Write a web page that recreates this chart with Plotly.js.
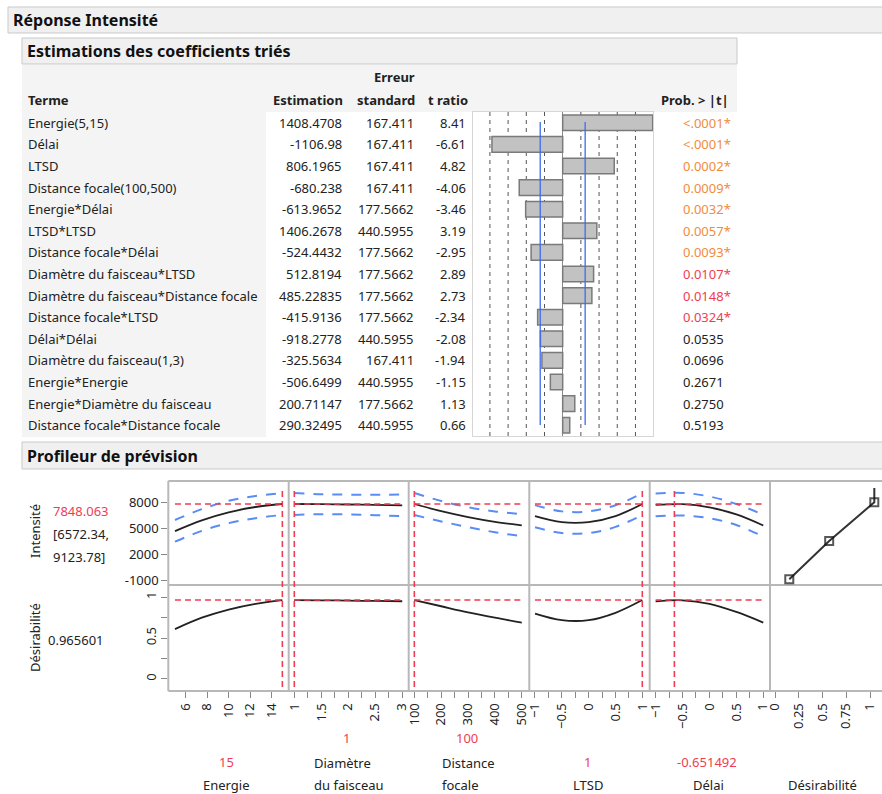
<!DOCTYPE html>
<html>
<head>
<meta charset="utf-8">
<script src="https://cdn.plot.ly/plotly-3.0.1.min.js"></script>
<style>html,body{margin:0;padding:0;background:#fff;}#chart{width:882px;height:794px;}</style>
</head>
<body>
<div id="chart"></div>
<script>
// ---------------- DATA ----------------
const terms = ["Energie(5,15)", "Délai", "LTSD", "Distance focale(100,500)", "Energie*Délai", "LTSD*LTSD",
  "Distance focale*Délai", "Diamètre du faisceau*LTSD", "Diamètre du faisceau*Distance focale",
  "Distance focale*LTSD", "Délai*Délai", "Diamètre du faisceau(1,3)", "Energie*Energie",
  "Energie*Diamètre du faisceau", "Distance focale*Distance focale"];
const estimates = [1408.4708, -1106.98, 806.1965, -680.238, -613.9652, 1406.2678, -524.4432, 512.8194,
  485.22835, -415.9136, -918.2778, -325.5634, -506.6499, 200.71147, 290.32495];
const stdErrors = [167.411, 167.411, 167.411, 167.411, 177.5662, 440.5955, 177.5662, 177.5662, 177.5662,
  177.5662, 440.5955, 167.411, 440.5955, 177.5662, 440.5955];
const tRatios = [8.41, -6.61, 4.82, -4.06, -3.46, 3.19, -2.95, 2.89, 2.73, -2.34, -2.08, -1.94, -1.15, 1.13, 0.66];
const pValues = ["<.0001*", "<.0001*", "0.0002*", "0.0009*", "0.0032*", "0.0057*", "0.0093*", "0.0107*",
  "0.0148*", "0.0324*", "0.0535", "0.0696", "0.2671", "0.2750", "0.5193"];
const tGridLines = [-6.8, -5.1, -3.4, -1.7, 1.7, 3.4, 5.1, 6.8];
const tCritical = [-2.1, 2.1];

// Profiler (prediction profiler) curves
const factorNames = ["Energie", "Diamètre du faisceau", "Distance focale", "LTSD", "Délai"];
const factorCurrent = [15, 1, 100, 1, -0.651492];
const energieX = [5, 7.5, 10, 12.5, 15];
const energieInt = [4700, 5950, 6880, 7500, 7848];
const energieLo = [3460, 4720, 5620, 6200, 6572];
const energieHi = [5990, 7250, 8220, 8780, 9124];
const energieDes = [0.61, 0.75, 0.85, 0.92, 0.966];
const diametreX = [1, 1.5, 2, 2.5, 3];
const diametreInt = [7848, 7830, 7790, 7740, 7690];
const diametreLo = [6572, 6660, 6630, 6550, 6430];
const diametreHi = [9124, 8990, 8940, 8930, 8950];
const diametreDes = [0.966, 0.963, 0.959, 0.955, 0.951];
const distanceX = [100, 200, 300, 400, 500];
const distanceInt = [7848, 7010, 6320, 5770, 5370];
const distanceLo = [6572, 5820, 5160, 4560, 4100];
const distanceHi = [9124, 8200, 7480, 6980, 6680];
const distanceDes = [0.966, 0.89, 0.815, 0.75, 0.69];
const ltsdX = [-1, -0.5, 0, 0.5, 1];
const ltsdInt = [6430, 5730, 5730, 6440, 7848];
const ltsdLo = [5140, 4470, 4470, 5180, 6572];
const ltsdHi = [7720, 6990, 6990, 7700, 9124];
const ltsdDes = [0.80, 0.72, 0.72, 0.81, 0.966];
const delaiX = [-1, -0.5, 0, 0.5, 1];
const delaiInt = [7736, 7827, 7458, 6630, 5343];
const delaiLo = [6410, 6510, 6200, 5400, 4060];
const delaiHi = [9060, 9140, 8720, 7850, 6600];
const delaiDes = [0.95, 0.963, 0.92, 0.82, 0.69];
const predIntensity = "7848.063";
const predInterval = ["[6572.34,", "9123.78]"];
const predDesirability = "0.965601";
const predIntensityValue = 7848.063;
const predDesirabilityValue = 0.965601;
// Desirability function (desirability vs Intensité)
const desirFnX = [0.15, 0.57, 1.045, 1.045];
const desirFnY = [-900, 3550, 8050, 9700];
const curValueLabels = ["15", "1", "100", "1", "-0.651492"];

// ---------------- HELPERS ----------------
const W = 882, H = 794;
const px = x => x / W;
const py = y => 1 - y / H;
const FONT = "Noto Sans, Open Sans, sans-serif";
const FS = 13;
const RED = "#f03c52", BLUE = "#5a8cf5", ORANGE = "#f08c3c";

const traces = [];
// t-ratio bars
traces.push({
  type: "bar", orientation: "h", x: tRatios, y: terms, xaxis: "x", yaxis: "y",
  width: 0.72, marker: {color: "#c2c2c2", line: {color: "#7a7a7a", width: 1.5}},
  hoverinfo: "skip"
});

const factors = [
  {x: energieX, i: energieInt, lo: energieLo, hi: energieHi, d: energieDes},
  {x: diametreX, i: diametreInt, lo: diametreLo, hi: diametreHi, d: diametreDes},
  {x: distanceX, i: distanceInt, lo: distanceLo, hi: distanceHi, d: distanceDes},
  {x: ltsdX, i: ltsdInt, lo: ltsdLo, hi: ltsdHi, d: ltsdDes},
  {x: delaiX, i: delaiInt, lo: delaiLo, hi: delaiHi, d: delaiDes}
];
factors.forEach((f, k) => {
  const xa = "x" + (k + 2);
  [f.hi, f.lo].forEach(band => traces.push({
    type: "scatter", mode: "lines", x: f.x, y: band, xaxis: xa, yaxis: "y2",
    line: {color: BLUE, width: 2, dash: "10px,9px", shape: "spline"}, hoverinfo: "skip"
  }));
  traces.push({type: "scatter", mode: "lines", x: f.x, y: f.i, xaxis: xa, yaxis: "y2",
    line: {color: "#222", width: 1.8, shape: "spline"}, hoverinfo: "skip"});
  traces.push({type: "scatter", mode: "lines", x: f.x, y: f.d, xaxis: xa, yaxis: "y3",
    line: {color: "#222", width: 1.8, shape: "spline"}, hoverinfo: "skip"});
});
traces.push({type: "scatter", mode: "lines+markers", x: desirFnX, y: desirFnY, xaxis: "x7", yaxis: "y2",
  line: {color: "#333", width: 2},
  marker: {symbol: "square-open", size: [8, 8, 8, 0], color: "#111", line: {width: 2}}, hoverinfo: "skip"});
traces.push({type: "scatter", mode: "lines", x: [], y: [], xaxis: "x7", yaxis: "y3", hoverinfo: "skip"});

// ---------------- LAYOUT ----------------
const colEdges = [168.3, 288.7, 408.7, 529.3, 649.7, 770, 882];
const row1 = [481, 585], row2 = [585, 691];
const xRanges = [[4.38, 15.59], [0.896, 3.12], [79, 528], [-1.106, 1.138], [-1.11, 1.125], [-0.053, 1.126]];
const xTicks = [
  {tick0: 6, dtick: 2},
  {tick0: 1, dtick: 0.5, minor: 0.25},
  {tick0: 100, dtick: 100, minor: 50},
  {tick0: -1, dtick: 0.5, minor: 0.25},
  {tick0: -1, dtick: 0.5, minor: 0.25},
  {tick0: 0, dtick: 0.25}
];

const layout = {
  width: W, height: H, autosize: false, showlegend: false,
  margin: {l: 0, r: 0, t: 0, b: 0, pad: 0},
  paper_bgcolor: "#ffffff", plot_bgcolor: "rgba(0,0,0,0)",
  font: {family: FONT, size: FS, color: "#222"},
  bargap: 0,
  xaxis: {domain: [px(473), px(653)], range: [-8.38, 8.44], anchor: "y", showticklabels: false,
    showgrid: false, zeroline: true, zerolinecolor: "#8a8a8a", zerolinewidth: 1,
    showline: true, mirror: true, linecolor: "#d6d6d6", linewidth: 1, ticks: "", fixedrange: true},
  yaxis: {domain: [py(436), py(112)], type: "category", categoryorder: "array", categoryarray: terms,
    range: [14.5, -0.5], anchor: "x", showticklabels: false, showgrid: false, zeroline: false,
    showline: true, mirror: true, linecolor: "#d6d6d6", linewidth: 1, ticks: "", fixedrange: true},
  yaxis2: {domain: [py(row1[1]), py(row1[0])], range: [-1580, 10525], anchor: "x2",
    tickmode: "array", tickvals: [8000, 5000, 2000, -1000], ticktext: ["8000", "5000", "2000", "-1000"],
    ticks: "outside", ticklen: 6, tickcolor: "#888", tickwidth: 1,
    showgrid: false, zeroline: false, showline: false, tickfont: {size: FS, color: "#222"}},
  yaxis3: {domain: [py(row2[1]), py(row2[0])], range: [-0.147, 1.15], anchor: "x2",
    tickmode: "array", tickvals: [0, 0.5, 1], ticktext: ["0", "0.5", "1"], tickangle: -90,
    ticks: "outside", ticklen: 6, tickcolor: "#888", tickwidth: 1,
    minor: {tickvals: [0.25, 0.75], ticks: "outside", ticklen: 6, tickcolor: "#888"},
    showgrid: false, zeroline: false, showline: false, tickfont: {size: FS, color: "#222"}}
};
for (let k = 0; k < 6; k++) {
  const t = xTicks[k];
  const ax = {
    domain: [px(colEdges[k]), px(colEdges[k + 1])], range: xRanges[k], anchor: "y3",
    tickmode: "linear", tick0: t.tick0, dtick: t.dtick, tickangle: -90,
    ticks: "outside", ticklen: 6, tickcolor: "#888", tickwidth: 1,
    showgrid: false, zeroline: false, showline: false, tickfont: {size: FS, color: "#222"}
  };
  if (t.minor) ax.minor = {dtick: t.minor, tick0: t.tick0, ticks: "outside", ticklen: 6, tickcolor: "#888"};
  layout["xaxis" + (k + 2)] = ax;
}

// ---------------- SHAPES ----------------
const shapes = [];
const rect = (x0, y0, x1, y1, fill, line) => shapes.push({type: "rect", xref: "paper", yref: "paper",
  x0: px(x0), x1: px(x1), y0: py(y1), y1: py(y0), fillcolor: fill,
  line: {color: line || "rgba(0,0,0,0)", width: line ? 1 : 0}, layer: "below"});
rect(8, 7, 883, 33, "#f0f0f0", "#c9c9c9");
rect(22, 38, 737, 64, "#f0f0f0", "#c9c9c9");
rect(22, 65, 737, 112, "#f4f4f4");
rect(22, 112, 266, 437, "#f4f4f4");
rect(653, 112, 737, 437, "#ffffff");
rect(22, 442, 883, 469, "#f0f0f0", "#c9c9c9");

// bar chart reference lines
tGridLines.forEach(v => shapes.push({type: "line", xref: "x", yref: "y domain", x0: v, x1: v, y0: 0, y1: 1,
  line: {color: "#555", width: 1, dash: "4px,4px"}, layer: "below"}));
tCritical.forEach(v => shapes.push({type: "line", xref: "x", yref: "paper", x0: v, x1: v, y0: py(425), y1: py(122),
  line: {color: "#3a6cf0", width: 1.3}}));

// profiler panel borders
colEdges.slice(0, 6).forEach(x => shapes.push({type: "line", xref: "paper", yref: "paper",
  x0: px(x), x1: px(x), y0: py(691), y1: py(481), line: {color: "#b8b8b8", width: 2}, layer: "below"}));
[481, 585, 691].forEach(y => shapes.push({type: "line", xref: "paper", yref: "paper",
  x0: px(168.3), x1: px(883), y0: py(y), y1: py(y), line: {color: "#b8b8b8", width: 2}, layer: "below"}));

// current-value red dashed lines
const redDash = {color: RED, width: 1.6, dash: "6px,4px"};
factors.forEach((f, k) => {
  const xa = "x" + (k + 2);
  const xmin = Math.min(...f.x), xmax = Math.max(...f.x);
  shapes.push({type: "line", xref: xa, yref: "paper", x0: factorCurrent[k], x1: factorCurrent[k],
    y0: py(687), y1: py(488), line: redDash});
  shapes.push({type: "line", xref: xa, yref: "y2", x0: xmin, x1: xmax, y0: predIntensityValue, y1: predIntensityValue, line: redDash});
  shapes.push({type: "line", xref: xa, yref: "y3", x0: xmin, x1: xmax, y0: predDesirabilityValue, y1: predDesirabilityValue, line: redDash});
});
layout.shapes = shapes;

// ---------------- ANNOTATIONS ----------------
const ann = [];
const txt = (text, x, y, opts = {}) => ann.push(Object.assign({text: text, x: px(x), y: py(y), xref: "paper", yref: "paper",
  showarrow: false, xanchor: "left", yanchor: "middle", font: {family: FONT, size: FS, color: "#222"}}, opts));
const bold = (s) => "<b>" + s + "</b>";
txt(bold("Réponse Intensité"), 11, 20, {font: {family: FONT, size: 16, color: "#111"}});
txt(bold("Estimations des coefficients triés"), 25, 51, {font: {family: FONT, size: 16, color: "#111"}});
txt(bold("Profileur de prévision"), 25, 456, {font: {family: FONT, size: 16, color: "#111"}});
// table headers
txt(bold("Erreur"), 417, 77, {xanchor: "right"});
txt(bold("Terme"), 26, 100);
txt(bold("Estimation"), 345, 100, {xanchor: "right"});
txt(bold("standard"), 417, 100, {xanchor: "right"});
txt(bold("t ratio"), 470, 100, {xanchor: "right"});
txt(bold("Prob. > |t|"), 731, 100, {xanchor: "right"});
// table rows
const pColor = s => {
  const v = s.startsWith("<") ? 0 : parseFloat(s);
  return v < 0.01 ? ORANGE : (v < 0.05 ? RED : "#222");
};
terms.forEach((t, i) => {
  const row = {xref: "paper", yref: "y", y: t, showarrow: false, yanchor: "middle",
    font: {family: FONT, size: FS, color: "#222"}};
  ann.push(Object.assign({}, row, {text: t, x: px(26), xanchor: "left"}));
  ann.push(Object.assign({}, row, {text: String(estimates[i]), x: px(344), xanchor: "right"}));
  ann.push(Object.assign({}, row, {text: String(stdErrors[i]), x: px(416), xanchor: "right"}));
  ann.push(Object.assign({}, row, {text: tRatios[i].toFixed(2), x: px(468), xanchor: "right"}));
  ann.push(Object.assign({}, row, {text: pValues[i], x: px(681), xanchor: "left",
    font: {family: FONT, size: FS, color: pColor(pValues[i])}}));
});
// profiler readouts
txt("Intensité", 35, 531, {xanchor: "center", textangle: -90});
txt("Désirabilité", 35, 638, {xanchor: "center", textangle: -90});
txt(predIntensity, 51, 511, {font: {family: FONT, size: FS, color: RED}});
txt(predInterval[0], 51, 534);
txt(predInterval[1], 51, 557);
txt(predDesirability, 46, 640);
// factor labels under the profiler
const colCenter = k => (colEdges[k] + colEdges[k + 1]) / 2;
txt(curValueLabels[0], colCenter(0) - 2, 762, {xanchor: "center", font: {family: FONT, size: FS, color: RED}});
txt("Energie", colCenter(0) - 2, 785, {xanchor: "center"});
txt(curValueLabels[1], colCenter(1) - 2, 738, {xanchor: "center", font: {family: FONT, size: FS, color: RED}});
txt("Diamètre", 312, 763);
txt("du faisceau", 312, 785);
txt(curValueLabels[2], colCenter(2) - 2, 738, {xanchor: "center", font: {family: FONT, size: FS, color: RED}});
txt("Distance", 440, 763);
txt("focale", 440, 785);
txt(curValueLabels[3], colCenter(3) - 2, 762, {xanchor: "center", font: {family: FONT, size: FS, color: RED}});
txt("LTSD", colCenter(3) - 2, 785, {xanchor: "center"});
txt(curValueLabels[4], colCenter(4) - 3, 762, {xanchor: "center", font: {family: FONT, size: FS, color: RED}});
txt("Délai", colCenter(4) - 1, 785, {xanchor: "center"});
txt("Désirabilité", 822, 785, {xanchor: "center"});
layout.annotations = ann;

Plotly.newPlot("chart", traces, layout, {staticPlot: true, displayModeBar: false});
</script>
</body>
</html>
